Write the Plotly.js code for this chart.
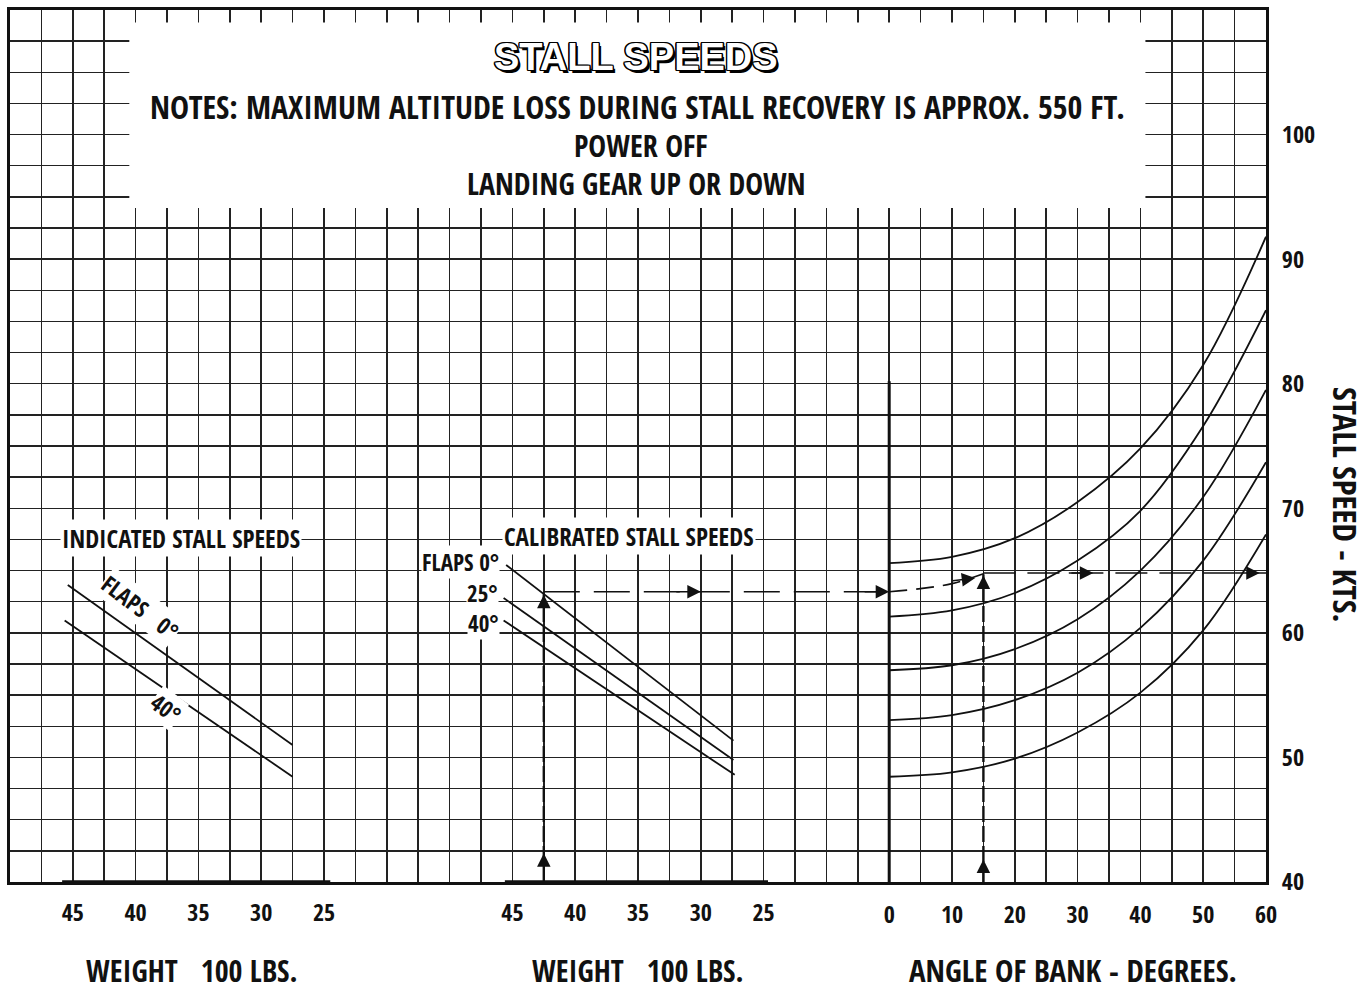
<!DOCTYPE html>
<html>
<head>
<meta charset="utf-8">
<script src="https://cdn.plot.ly/plotly-3.0.1.min.js"></script>
<style>html,body{margin:0;padding:0;background:#fff;}#chart{width:1372px;height:992px;}</style>
</head>
<body>
<div id="chart"></div>
<script>
// ---------- DATA ----------
// Angle of bank panel (degrees) and stall speed curves (kts)
const bankDeg = [0, 10, 20, 30, 40, 50, 60];
const bankSpeedA = [65.6, 66.1, 67.6, 70.5, 74.8, 81.5, 91.8];
const bankSpeedB = [61.3, 61.8, 63.2, 65.8, 69.8, 76.6, 85.9];
const bankSpeedC = [57.0, 57.4, 58.7, 61.1, 65.0, 70.9, 79.5];
const bankSpeedD = [53.0, 53.4, 54.6, 56.8, 60.4, 65.8, 73.7];
const bankSpeedE = [48.45, 48.8, 49.9, 52.0, 55.2, 60.2, 67.9];

// Indicated stall speeds vs weight (100 lbs)
const indWeightFlaps0 = [45.4, 27.5];
const indSpeedFlaps0 = [63.85, 51.0];
const indWeightFlaps40 = [45.65, 27.5];
const indSpeedFlaps40 = [61.0, 48.45];

// Calibrated stall speeds vs weight (100 lbs)
const calWeightFlaps0 = [45.5, 27.4];
const calSpeedFlaps0 = [65.45, 51.35];
const calWeightFlaps25 = [45.7, 27.4];
const calSpeedFlaps25 = [62.8, 49.8];
const calWeightFlaps40 = [45.7, 27.3];
const calSpeedFlaps40 = [61.0, 48.6];

// Example (dashed) path
const exWeight = 42.5;
const exWeightAtBank0 = 15;
const exSpeedLevel = 63.3;
const exBankCurveDeg = [0, 5, 10, 15];
const exBankCurveSpeed = [63.3, 63.55, 63.95, 64.75];
const exBank = 15;
const exBankEnd = 60;
const exSpeedBanked = 64.8;

// Tick labels
const weightTicks = [45, 40, 35, 30, 25];
const weightTickText = ['45', '40', '35', '30', '25'];
const bankGridVals = [];
const bankGridText = [];
for (let v = -140; v <= 60; v += 5) { bankGridVals.push(v); bankGridText.push(v >= 0 && v % 10 === 0 ? String(v) : ''); }
const speedGridVals = [];
const speedGridText = [];
for (let v = 40; v <= 110; v += 2.5) { speedGridVals.push(v); speedGridText.push(v <= 100 && v % 10 === 0 ? String(v) : ''); }

// ---------- STYLE ----------
const NARROW = "'Open Sans Condensed', 'Roboto Condensed', 'Liberation Sans Narrow', sans-serif";
const INK = '#111';
const L = 10, R = 106, T = 10, B = 110;
const PW = 1372 - L - R, PH = 992 - T - B;
const PX = x => (x - L) / PW;
const PY = y => (992 - B - y) / PH;

const curveLine = {color: INK, width: 1.8, shape: 'spline', smoothing: 1};
const straight = {color: INK, width: 1.8};

function tr(x, y, xa, line) {
  return {type: 'scatter', mode: 'lines', x: x, y: y, xaxis: xa, yaxis: 'y', line: line, hoverinfo: 'skip', showlegend: false};
}

const traces = [
  tr(bankDeg, bankSpeedA, 'x', curveLine),
  tr(bankDeg, bankSpeedB, 'x', curveLine),
  tr(bankDeg, bankSpeedC, 'x', curveLine),
  tr(bankDeg, bankSpeedD, 'x', curveLine),
  tr(bankDeg, bankSpeedE, 'x', curveLine),
  tr(indWeightFlaps0, indSpeedFlaps0, 'x2', straight),
  tr(indWeightFlaps40, indSpeedFlaps40, 'x2', straight),
  tr(calWeightFlaps0, calSpeedFlaps0, 'x3', straight),
  tr(calWeightFlaps25, calSpeedFlaps25, 'x3', straight),
  tr(calWeightFlaps40, calSpeedFlaps40, 'x3', straight),
  // dashed example path
  tr([exWeight, exWeight], [40, 63.1], 'x3', {color: INK, width: 2.4, dash: '16px,4px'}),
  tr([exWeight, exWeightAtBank0], [exSpeedLevel, exSpeedLevel], 'x3', {color: INK, width: 1.6, dash: '36px,14px'}),
  tr(exBankCurveDeg, exBankCurveSpeed, 'x', {color: INK, width: 1.6, dash: '18px,9px', shape: 'spline'}),
  tr([exBank, exBankEnd], [exSpeedBanked, exSpeedBanked], 'x', {color: INK, width: 1.6, dash: '32px,12px'}),
  tr([exBank, exBank], [40, 64.7], 'x', {color: INK, width: 2.4, dash: '16px,4px'})
];

function txt(text, x, y, size, extra) {
  return Object.assign({text: text, x: PX(x), y: PY(y), xref: 'paper', yref: 'paper', showarrow: false,
    xanchor: 'center', yanchor: 'middle', borderpad: 0,
    font: {family: NARROW, size: size, color: INK, weight: 'bold'}}, extra || {});
}
function arrow(xa, x, y, ax, ay) {
  return {xref: xa, yref: 'y', x: x, y: y, ax: ax, ay: ay, text: '', showarrow: true,
    arrowhead: 2, arrowsize: 1.8, arrowwidth: 1.5, arrowcolor: INK};
}

const annotations = [
  txt('STALL SPEEDS', 636, 57, 38, {font: {family: "'Liberation Sans', Arial, sans-serif", size: 38, weight: 'bold', color: '#fff',
    shadow: '-1.2px -1.2px 0 #000, 1.2px -1.2px 0 #000, -1.2px 1.2px 0 #000, 1.2px 1.2px 0 #000, 0 1.4px 0 #000, 0 -1.4px 0 #000, 1.4px 0 0 #000, -1.4px 0 0 #000, 2.5px 2.5px 0 #000'}}),
  txt('NOTES: MAXIMUM ALTITUDE LOSS DURING STALL RECOVERY IS APPROX. 550 FT.', 637, 106.5, 32),
  txt('POWER OFF', 641, 145.5, 30),
  txt('LANDING GEAR UP OR DOWN', 636, 184, 30),
  txt('INDICATED STALL SPEEDS', 181, 538, 25, {bgcolor: '#fff', borderpad: 1}),
  txt('CALIBRATED STALL SPEEDS', 629, 536, 25, {bgcolor: '#fff', borderpad: 1}),
  txt('FLAPS 0°', 500, 562, 23, {xanchor: 'right', bgcolor: '#fff'}),
  txt('25°', 499, 593, 23, {xanchor: 'right', bgcolor: '#fff'}),
  txt('40°', 500, 623, 23, {xanchor: 'right', bgcolor: '#fff'}),
  txt('FLAPS&nbsp;&nbsp; 0°', 140, 607, 23, {textangle: 37, bgcolor: '#fff'}),
  txt('40°', 166, 708, 23, {textangle: 37, bgcolor: '#fff'}),
  txt('WEIGHT\u00a0\u00a0 100 LBS.', 192, 970, 30),
  txt('WEIGHT\u00a0\u00a0 100 LBS.', 638, 970, 30),
  txt('ANGLE OF BANK - DEGREES.', 1073, 970, 31),
  txt('STALL SPEED - KTS.', 1346, 504, 33, {textangle: 90}),
  // arrowheads along the example path
  arrow('x3', exWeight, 42.3, 0, 26),
  arrow('x3', exWeight, 63.05, 0, 26),
  arrow('x3', 30, exSpeedLevel, -26, 0),
  arrow('x3', exWeightAtBank0, exSpeedLevel, -26, 0),
  arrow('x', 13.7, 64.4, -24, 3),
  arrow('x', exBank, 41.8, 0, 26),
  arrow('x', exBank, 64.6, 0, 26),
  arrow('x', 32.5, exSpeedBanked, -26, 0),
  arrow('x', 59, exSpeedBanked, -26, 0)
];

const shapes = [
  // white panel behind the title/notes
  {type: 'rect', xref: 'x', yref: 'y', x0: -121, x1: 40.8, y0: 94.1, y1: 109.0, fillcolor: '#fff', line: {width: 0}, layer: 'above'},
  // heavy scale bars and the zero-bank line
  {type: 'line', xref: 'x2', yref: 'y', x0: 45.85, x1: 24.5, y0: 40, y1: 40, line: {color: INK, width: 3.5}, layer: 'above'},
  {type: 'line', xref: 'x3', yref: 'y', x0: 45.6, x1: 24.65, y0: 40, y1: 40, line: {color: INK, width: 3.5}, layer: 'above'},
  {type: 'line', xref: 'x', yref: 'y', x0: 0, x1: 0, y0: 40, y1: 80.2, line: {color: INK, width: 3}, layer: 'above'}
];

const tickFont = {family: NARROW, size: 24, color: INK, weight: 'bold'};
const layout = {
  width: 1372, height: 992,
  margin: {l: L, r: R, t: T, b: B},
  paper_bgcolor: '#fff', plot_bgcolor: '#fff',
  showlegend: false,
  xaxis: {range: [-140, 60], tickmode: 'array', tickvals: bankGridVals, ticktext: bankGridText,
    showgrid: true, gridcolor: '#222', gridwidth: 1.5, zeroline: false,
    showline: true, mirror: true, linecolor: INK, linewidth: 3,
    ticks: 'outside', ticklen: 0, tickfont: tickFont, ticklabelstandoff: 9, fixedrange: true},
  xaxis2: {overlaying: 'x', anchor: 'y', side: 'bottom', range: [50, -50], tickmode: 'array', tickvals: weightTicks, ticktext: weightTickText,
    showgrid: false, zeroline: false, showline: false, ticks: 'outside', ticklen: 0, tickfont: tickFont, ticklabelstandoff: 9},
  xaxis3: {overlaying: 'x', anchor: 'y', side: 'bottom', range: [85, -15], tickmode: 'array', tickvals: weightTicks, ticktext: weightTickText,
    showgrid: false, zeroline: false, showline: false, ticks: 'outside', ticklen: 0, tickfont: tickFont, ticklabelstandoff: 9},
  yaxis: {range: [40, 110], side: 'right', tickmode: 'array', tickvals: speedGridVals, ticktext: speedGridText,
    showgrid: true, gridcolor: '#222', gridwidth: 1.5, zeroline: false,
    showline: true, mirror: true, linecolor: INK, linewidth: 3,
    ticks: 'outside', ticklen: 0, tickfont: tickFont, ticklabelstandoff: 8, fixedrange: true},
  annotations: annotations,
  shapes: shapes
};

Plotly.newPlot('chart', traces, layout, {staticPlot: true, displayModeBar: false});
</script>
</body>
</html>
